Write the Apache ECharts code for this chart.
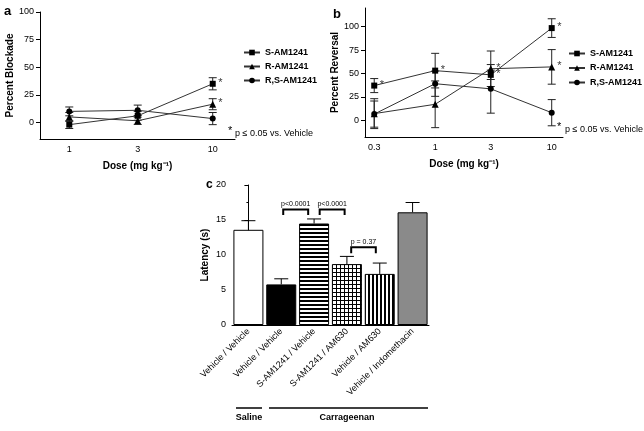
<!DOCTYPE html>
<html><head><meta charset="utf-8">
<script src="https://cdn.jsdelivr.net/npm/echarts@6/dist/echarts.min.js"></script>
<style>html,body{margin:0;padding:0;background:#fff}#c{width:644px;height:431px}</style>
</head><body><div id="c"></div>
<script>
const FONT = '"Liberation Sans", Arial, Helvetica, sans-serif';
const seriesNames = ['S-AM1241', 'R-AM1241', 'R,S-AM1241'];
const symbols = ['rect', 'triangle', 'circle'];

// ---- Panel a: Percent Blockade ----
const doseA = [1, 3, 10];
const aS = [-2, 6, 35];      const aSerr = [3.5, 4, 5.5];
const aR = [5, 1.5, 16.5];   const aRerr = [4, 3.3, 5];
const aRS = [10, 11, 3.5];   const aRSerr = [4, 4.7, 5.5];
const aStars = [[10, 35], [10, 16.5]];
const aTicksX = [1, 3, 10];
const aTicksY = [0, 25, 50, 75, 100];

// ---- Panel b: Percent Reversal ----
const doseB = [0.3, 1, 3, 10];
const bS = [37, 53, 48.5, 98.5];  const bSerr = [7.5, 18.5, 5, 10];
const bR = [7, 17, 55, 57];       const bRerr = [16, 25, 19, 18.5];
const bRS = [6.5, 39, 33.5, 8];   const bRSerr = [14, 13.5, 26, 14];
const bStars = [[0.3, 37], [1, 53], [3, 55], [3, 48.5], [10, 98.5], [10, 57]];
const bTicksX = [0.3, 1, 3, 10];
const bTicksY = [0, 25, 50, 75, 100];

// ---- Panel c: Latency ----
const cCats = ['Vehicle / Vehicle', 'Vehicle / Vehicle', 'S-AM1241 / Vehicle', 'S-AM1241 / AM630', 'Vehicle / AM630', 'Vehicle / Indomethacin'];
const cVals = [13.6, 5.8, 14.5, 8.7, 7.3, 16.1];
const cErr = [1.3, 0.8, 0.65, 1.1, 1.55, 1.4];
// brackets: [from, to, topValue, legValue, label]
const cBrackets = [[1.06, 1.82, 16.5, 15.7, 'p<0.0001'], [2.17, 2.93, 16.5, 15.7, 'p<0.0001'], [3.13, 3.88, 11.1, 10.25, 'p = 0.37']];

function pattern(kind) {
  const cv = document.createElement('canvas');
  cv.width = 4; cv.height = 4;
  const g = cv.getContext('2d');
  g.fillStyle = '#fff'; g.fillRect(0, 0, 4, 4);
  g.fillStyle = '#000';
  if (kind === 'h') g.fillRect(0, 0, 4, 2);
  if (kind === 'v') g.fillRect(0, 0, 2, 4);
  if (kind === 'g') { g.fillRect(0, 0, 4, 1); g.fillRect(0, 0, 1, 4); }
  return { image: cv, repeat: 'repeat' };
}
const cFills = ['#ffffff', '#000000', pattern('h'), pattern('g'), pattern('v'), '#8a8a8a'];

const txt = { fontFamily: FONT, color: '#000' };

function errRender(params, api) {
  const x = api.value(0), y = api.value(1), e = api.value(2);
  const t = api.coord([x, y + e]), b = api.coord([x, y - e]);
  const w = 4, st = { stroke: '#222', lineWidth: 1 };
  return { type: 'group', children: [
    { type: 'line', shape: { x1: t[0], y1: t[1], x2: b[0], y2: b[1] }, style: st },
    { type: 'line', shape: { x1: t[0] - w, y1: t[1], x2: t[0] + w, y2: t[1] }, style: st },
    { type: 'line', shape: { x1: b[0] - w, y1: b[1], x2: b[0] + w, y2: b[1] }, style: st }
  ]};
}
function barErrRender(params, api) {
  const x = api.value(0), y = api.value(1), e = api.value(2);
  const t = api.coord([x, y + e]), b = api.coord([x, y]);
  const w = 7, st = { stroke: '#000', lineWidth: 1 };
  return { type: 'group', children: [
    { type: 'line', shape: { x1: t[0], y1: t[1], x2: b[0], y2: b[1] }, style: st },
    { type: 'line', shape: { x1: t[0] - w, y1: t[1], x2: t[0] + w, y2: t[1] }, style: st }
  ]};
}
function bracketRender(params, api) {
  const x1 = api.value(0), x2 = api.value(1), yt = api.value(2), yl = api.value(3);
  const p1 = api.coord([x1, yl]), p2 = api.coord([x1, yt]), p3 = api.coord([x2, yt]), p4 = api.coord([x2, yl]);
  return { type: 'group', children: [
    { type: 'polyline', shape: { points: [p1, p2, p3, p4] }, style: { stroke: '#000', lineWidth: 2, fill: null } },
    { type: 'text', x: (p2[0] + p3[0]) / 2, y: p2[1] - 2, style: { text: cBrackets[params.dataIndex][4], fontFamily: FONT, fontSize: 7, fill: '#000', align: 'center', verticalAlign: 'bottom' } }
  ]};
}

function lineSeries(name, sym, xs, ys, xi) {
  return { type: 'line', name: name, xAxisIndex: xi, yAxisIndex: xi, data: xs.map((x, i) => [x, ys[i]]),
    symbol: sym, symbolSize: sym === 'triangle' ? 7 : 6, lineStyle: { color: '#333', width: 1 },
    itemStyle: { color: '#000' }, z: 3, animation: false };
}
function errSeries(xs, ys, es, xi) {
  return { type: 'custom', xAxisIndex: xi, yAxisIndex: xi, renderItem: errRender,
    data: xs.map((x, i) => [x, ys[i], es[i]]), encode: { x: 0, y: 1 }, z: 2, silent: true, animation: false };
}
function starSeries(pts, xi) {
  return { type: 'scatter', xAxisIndex: xi, yAxisIndex: xi, data: pts, symbolSize: 1, itemStyle: { color: 'rgba(0,0,0,0)' },
    label: { show: true, formatter: '*', position: 'right', distance: 4, offset: [1, -1], fontFamily: FONT, fontSize: 11, color: '#000' }, silent: true, animation: false };
}

const yAxisCommon = {
  type: 'value', splitLine: { show: false },
  axisLine: { show: true, lineStyle: { color: '#000', width: 1 } },
  axisTick: { show: true, length: 4, lineStyle: { color: '#000' } },
  axisLabel: { ...txt, fontSize: 9, margin: 6 },
  nameLocation: 'middle', nameRotate: 90,
  nameTextStyle: { ...txt, fontSize: 10, fontWeight: 'bold' }
};
const xLogCommon = {
  type: 'log', logBase: 10, splitLine: { show: false },
  axisLine: { show: true, onZero: false, lineStyle: { color: '#000', width: 1 } },
  axisTick: { show: false },
  nameLocation: 'middle', nameGap: 22,
  nameTextStyle: { ...txt, fontSize: 10, fontWeight: 'bold' }
};

const chart = echarts.init(document.getElementById('c'), null, { renderer: 'canvas' });
chart.setOption({
  backgroundColor: '#fff',
  animation: false,
  grid: [
    { left: 40, top: 12, width: 195, height: 127 },
    { left: 365, top: 8, width: 198, height: 129 },
    { left: 232, top: 185, width: 197, height: 140 }
  ],
  xAxis: [
    { ...xLogCommon, gridIndex: 0, min: 0.625, max: 14.3, name: 'Dose (mg kg⁻¹)',
      axisLabel: { ...txt, fontSize: 9, margin: 6, customValues: aTicksX, formatter: v => String(v) } },
    { ...xLogCommon, gridIndex: 1, min: 0.25, max: 12.5, name: 'Dose (mg kg⁻¹)',
      axisLabel: { ...txt, fontSize: 9, margin: 6, customValues: bTicksX, formatter: v => String(v) } },
    { type: 'category', gridIndex: 2, data: cCats,
      axisLine: { show: true, onZero: false, lineStyle: { color: '#000' } }, axisTick: { show: false },
      axisLabel: { ...txt, fontSize: 9, rotate: 45, interval: 0, margin: 5 } },
    { type: 'value', gridIndex: 2, min: -0.5, max: 5.5, show: false }
  ],
  yAxis: [
    { ...yAxisCommon, gridIndex: 0, min: -15, max: 100, name: 'Percent Blockade', nameGap: 22,
      axisLabel: { ...yAxisCommon.axisLabel, customValues: aTicksY },
      axisTick: { ...yAxisCommon.axisTick, customValues: aTicksY } },
    { ...yAxisCommon, gridIndex: 1, min: -18, max: 120, name: 'Percent Reversal', nameGap: 25,
      axisLabel: { ...yAxisCommon.axisLabel, customValues: bTicksY },
      axisTick: { ...yAxisCommon.axisTick, customValues: bTicksY } },
    { ...yAxisCommon, gridIndex: 2, min: 0, max: 20, interval: 5, name: 'Latency (s)', nameGap: 22,
      minorTick: { show: true, splitNumber: 2, length: 2, lineStyle: { color: '#000' } } }
  ],
  legend: [
    { data: seriesNames, left: 243, top: 48, padding: 0, orient: 'vertical', itemWidth: 16, itemHeight: 7, itemGap: 5,
      selectedMode: false, textStyle: { ...txt, fontSize: 9, fontWeight: 'bold' } },
    { data: seriesNames, left: 568, top: 49, padding: 0, orient: 'vertical', itemWidth: 16, itemHeight: 7, itemGap: 5.5,
      selectedMode: false, textStyle: { ...txt, fontSize: 9, fontWeight: 'bold' } }
  ],
  series: [
    errSeries(doseA, aS, aSerr, 0), errSeries(doseA, aR, aRerr, 0), errSeries(doseA, aRS, aRSerr, 0),
    lineSeries(seriesNames[0], symbols[0], doseA, aS, 0),
    lineSeries(seriesNames[1], symbols[1], doseA, aR, 0),
    lineSeries(seriesNames[2], symbols[2], doseA, aRS, 0),
    starSeries(aStars, 0),
    errSeries(doseB, bS, bSerr, 1), errSeries(doseB, bR, bRerr, 1), errSeries(doseB, bRS, bRSerr, 1),
    lineSeries(seriesNames[0], symbols[0], doseB, bS, 1),
    lineSeries(seriesNames[1], symbols[1], doseB, bR, 1),
    lineSeries(seriesNames[2], symbols[2], doseB, bRS, 1),
    starSeries(bStars, 1),
    { type: 'bar', xAxisIndex: 2, yAxisIndex: 2, barWidth: 30,
      data: cVals.map((v, i) => ({ value: v, itemStyle: { color: cFills[i], borderColor: '#000', borderWidth: 1 } })),
      z: 2, animation: false },
    { type: 'custom', xAxisIndex: 2, yAxisIndex: 2, renderItem: barErrRender,
      data: cVals.map((v, i) => [i, v, cErr[i]]), encode: { x: 0, y: 1 }, z: 3, silent: true },
    { type: 'custom', xAxisIndex: 3, yAxisIndex: 2, renderItem: bracketRender,
      data: cBrackets.map(b => [b[0], b[1], b[2], b[3]]), encode: { x: [0, 1], y: [2, 3] }, z: 4, silent: true }
  ],
  graphic: [
    { type: 'text', left: 4, top: 5, style: { text: 'a', font: 'bold 13px ' + FONT, fill: '#000' } },
    { type: 'text', left: 333, top: 8, style: { text: 'b', font: 'bold 13px ' + FONT, fill: '#000' } },
    { type: 'text', left: 206, top: 179, style: { text: 'c', font: 'bold 12px ' + FONT, fill: '#000' } },
    { type: 'text', left: 228, top: 125, style: { text: '*', font: '11px ' + FONT, fill: '#000' } },
    { type: 'text', left: 235, top: 129, style: { text: 'p ≤ 0.05 vs. Vehicle', font: '9px ' + FONT, fill: '#000' } },
    { type: 'text', left: 557, top: 121, style: { text: '*', font: '11px ' + FONT, fill: '#000' } },
    { type: 'text', right: 1, top: 125, style: { text: 'p ≤ 0.05 vs. Vehicle', font: '9px ' + FONT, fill: '#000' } },
    { type: 'line', shape: { x1: 236, y1: 408, x2: 262, y2: 408 }, style: { stroke: '#000', lineWidth: 1.5 } },
    { type: 'line', shape: { x1: 269, y1: 408, x2: 428, y2: 408 }, style: { stroke: '#000', lineWidth: 1.5 } },
    { type: 'text', x: 249, y: 418, style: { text: 'Saline', font: 'bold 9px ' + FONT, fill: '#000', align: 'center', verticalAlign: 'middle' } },
    { type: 'text', x: 347, y: 418, style: { text: 'Carrageenan', font: 'bold 9px ' + FONT, fill: '#000', align: 'center', verticalAlign: 'middle' } }
  ]
});
</script>
</body></html>
